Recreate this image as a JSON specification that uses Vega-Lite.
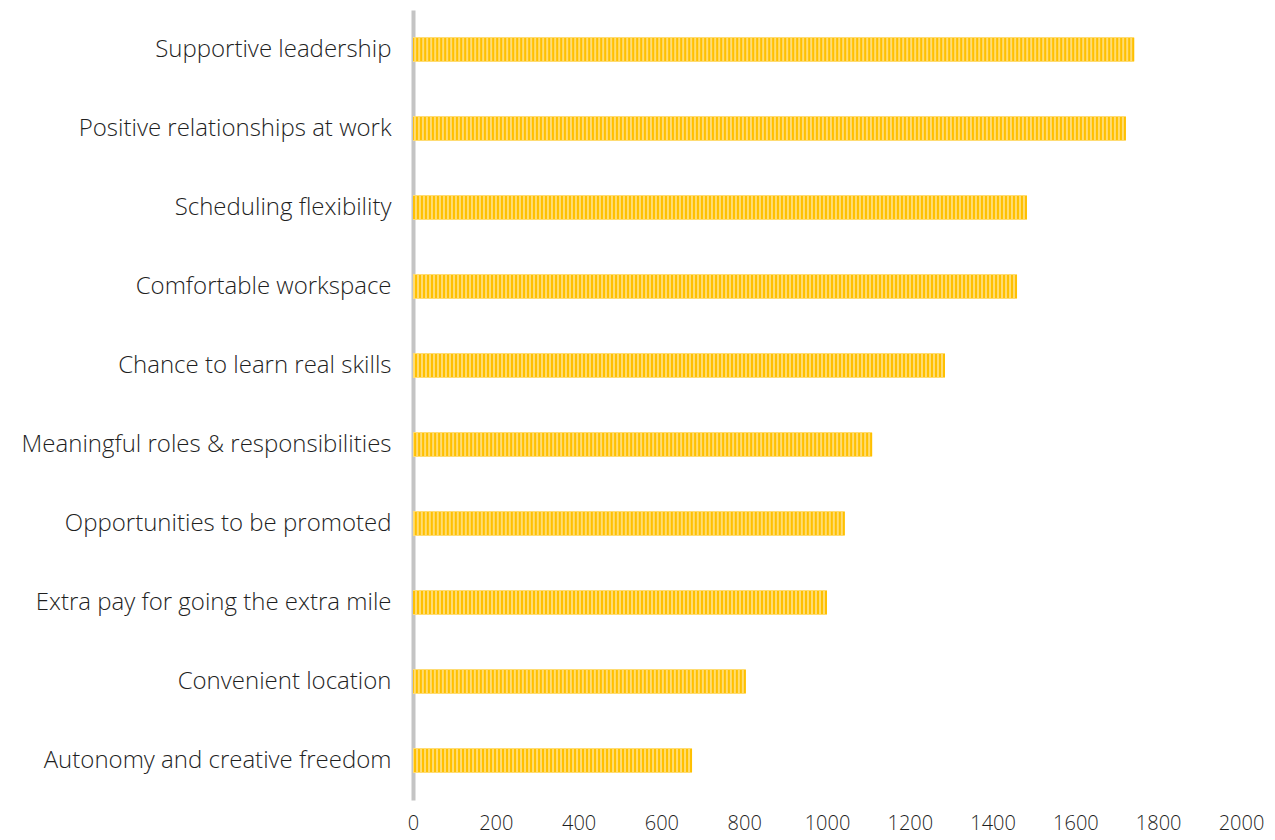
{
  "$schema": "https://vega.github.io/schema/vega-lite/v6.json",
  "width": 828,
  "height": 790,
  "autosize": {"type": "none"},
  "padding": {"left": 413, "top": 10, "right": 34, "bottom": 40},
  "background": "white",
  "config": {
    "view": {"stroke": null},
    "font": "Open Sans",
    "axis": {"labelFont": "Open Sans", "labelFontWeight": 300, "labelColor": "#1F1F1F", "grid": false, "ticks": false}
  },
  "data": {
    "values": [
      {"factor": "Supportive leadership", "score": 1742},
      {"factor": "Positive relationships at work", "score": 1722},
      {"factor": "Scheduling flexibility", "score": 1483},
      {"factor": "Comfortable workspace", "score": 1459},
      {"factor": "Chance to learn real skills", "score": 1285},
      {"factor": "Meaningful roles & responsibilities", "score": 1109},
      {"factor": "Opportunities to be promoted", "score": 1043},
      {"factor": "Extra pay for going the extra mile", "score": 1000},
      {"factor": "Convenient location", "score": 804},
      {"factor": "Autonomy and creative freedom", "score": 674}
    ]
  },
  "layer": [
    {
      "mark": {"type": "bar", "color": "#FFDC73"},
      "encoding": {
        "y": {
          "field": "factor",
          "type": "nominal",
          "sort": null,
          "scale": {"paddingInner": 0.684, "paddingOuter": 0.342},
          "axis": {
            "title": null,
            "domain": true,
            "domainColor": "#C4C4C4",
            "domainWidth": 4,
            "labelFontSize": 24,
            "labelPadding": 22,
            "labelLimit": 420
          }
        },
        "x": {
          "field": "score",
          "type": "quantitative",
          "scale": {"domain": [0, 2000], "nice": false},
          "axis": {
            "title": null,
            "domain": false,
            "format": "d",
            "values": [0, 200, 400, 600, 800, 1000, 1200, 1400, 1600, 1800, 2000],
            "labelFontSize": 20,
            "labelPadding": 13,
            "labelFlush": false
          }
        }
      }
    },
    {
      "mark": {
        "type": "rule",
        "color": "#FFC000",
        "strokeWidth": 23,
        "strokeDash": [2, 2],
        "strokeCap": "butt"
      },
      "encoding": {
        "y": {"field": "factor", "type": "nominal", "sort": null},
        "x": {"field": "score", "type": "quantitative"},
        "x2": {"datum": 0}
      }
    }
  ]
}
